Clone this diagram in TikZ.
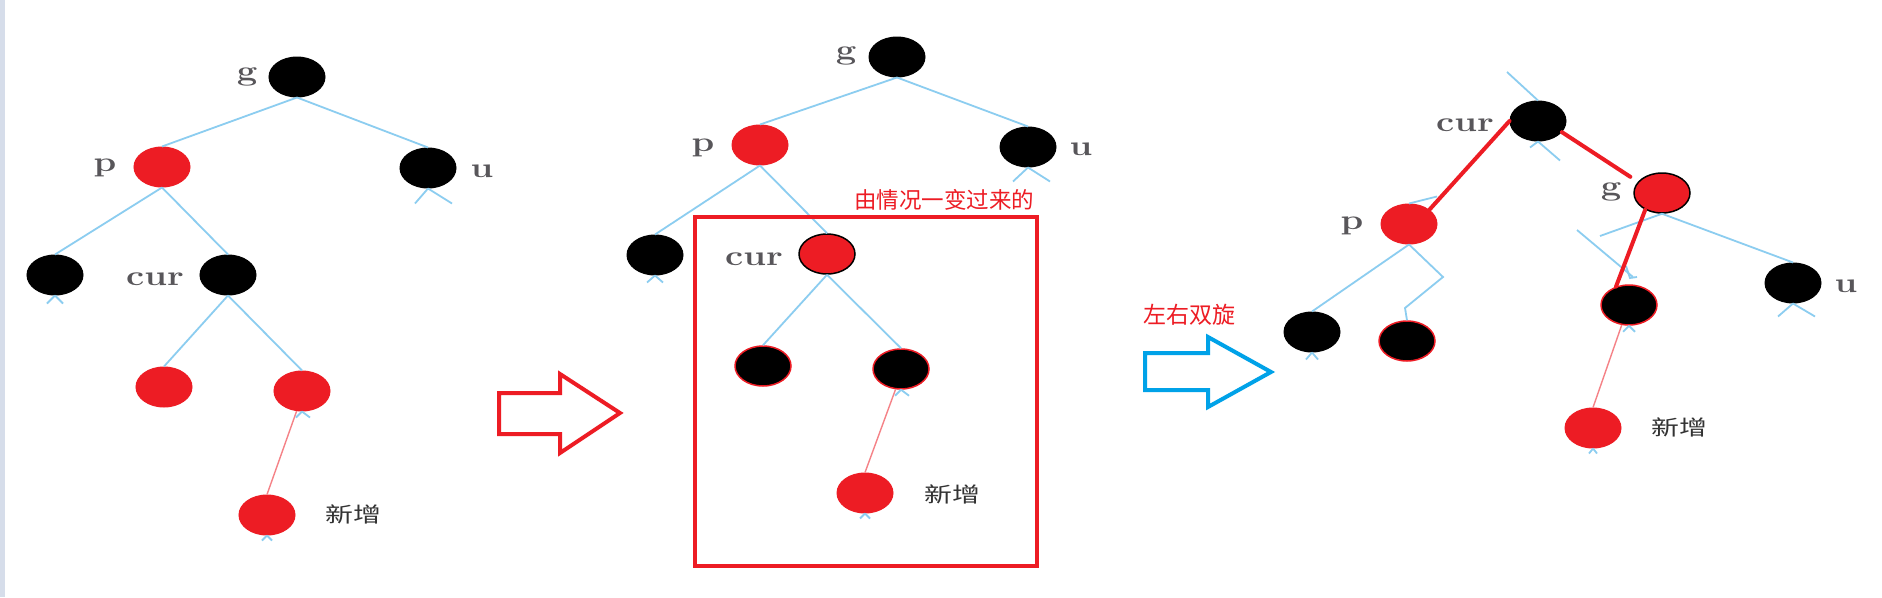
\documentclass[tikz,border=0pt]{standalone}
\usepackage{fontspec}
\usepackage{graphicx}
\newfontfamily\cjk{Noto Sans CJK SC}
\usetikzlibrary{shapes.geometric}
\definecolor{myred}{RGB}{237,28,36}
\definecolor{edgeblue}{RGB}{140,205,240}
\definecolor{arrowblue}{RGB}{0,162,232}
\definecolor{labgray}{RGB}{88,86,90}
\definecolor{stripc}{RGB}{214,221,234}
\newcommand\widetxt[1]{\scalebox{1.3}[1]{#1}}
\begin{document}
\begin{tikzpicture}[x=1pt,y=-1pt,
  rb/.style={ellipse, minimum width=56pt, minimum height=40pt, inner sep=0pt, line width=1pt},
  bk/.style={rb, fill=black, draw=black},
  rd/.style={rb, fill=myred, draw=myred},
  bkr/.style={rb, fill=black, draw=myred, line width=1.5pt},
  rdk/.style={rb, fill=myred, draw=black, line width=1.5pt},
  tedge/.style={draw=edgeblue, line width=1.8pt},
  nedge/.style={draw=myred!55!white, line width=1.4pt},
  redge/.style={draw=myred, line width=4pt, line cap=round},
  lab/.style={text=labgray, font=\fontsize{28}{28}\selectfont\bfseries, inner sep=0pt, anchor=base},
  newlab/.style={text=black!80, font=\cjk\fontsize{21}{21}\selectfont, inner sep=0pt},
  note/.style={text=myred, font=\cjk\fontsize{22.5}{22.5}\selectfont, inner sep=0pt},
  bigarrow/.style={line width=4pt, line join=miter},
]
\useasboundingbox (0,0) rectangle (1882,597);
\fill[white] (0,0) rectangle (1882,597);
\fill[stripc] (0,0) rectangle (5,597);

% ---------- left tree ----------
\node[bk] (Ag) at (297,77) {};
\node[rd] (Ap) at (162,167) {};
\node[bk] (Au) at (428,168) {};
\node[bk] (Al) at (55,275) {};
\node[bk] (Ac) at (228,275) {};
\node[rd] (Acl) at (164,387) {};
\node[rd] (Acr) at (302,391) {};
\node[rd] (An) at (267,515) {};

\draw[tedge] (Ag.south) -- (Ap.north);
\draw[tedge] (Ag.south) -- (Au.north);
\draw[tedge] (Ap.south) -- (Al.north);
\draw[tedge] (Ap.south) -- (Ac.north);
\draw[tedge] (Ac.south) -- (Acl.north);
\draw[tedge] (Ac.south) -- (Acr.north);
\draw[nedge] (Acr.255) -- (An.north);
\draw[tedge] (Au.south) -- ++(-13,15) (Au.south) -- ++(24,15);
\draw[tedge] (Al.south) -- ++(-8,8) (Al.south) -- ++(8,8);
\draw[tedge] (Acr.south) -- ++(-6,6) (Acr.south) -- ++(8,6);
\draw[tedge] (An.south) -- ++(-5,5) (An.south) -- ++(5,5);

\node[lab] (Lg) at (247,80) {\widetxt{g}};
\node[lab] (Lp) at (105,171) {\widetxt{p}};
\node[lab] (Lu) at (482,177) {\widetxt{u}};
\node[lab] (Lc) at (155,285) {\widetxt{cur}};
\node[newlab] (Ln) at (353,514) {\scalebox{1.33}[1]{新增}};

% ---------- red arrow ----------
\draw[myred, bigarrow] (499,393) -- (560,393) -- (560,374) -- (620,413)
  -- (560,453) -- (560,434) -- (499,434) -- cycle;

% ---------- middle tree ----------
\node[bk] (Bg) at (897,57) {};
\node[rd] (Bp) at (760,145) {};
\node[bk] (Bu) at (1028,147) {};
\node[bk] (Bl) at (655,255) {};
\node[rdk] (Bc) at (827,254) {};
\node[bkr] (Bcl) at (763,366) {};
\node[bkr] (Bcr) at (901,369) {};
\node[rd] (Bn) at (865,493) {};

\draw[tedge] (Bg.south) -- (Bp.north);
\draw[tedge] (Bg.south) -- (Bu.north);
\draw[tedge] (Bp.south) -- (Bl.north);
\draw[tedge] (Bp.south) -- (Bc.north);
\draw[tedge] (Bc.south) -- (Bcl.north);
\draw[tedge] (Bc.south) -- (Bcr.north);
\draw[nedge] (Bcr.255) -- (Bn.north);
\draw[tedge] (Bu.south) -- ++(-15,14) (Bu.south) -- ++(22,14);
\draw[tedge] (Bl.south) -- ++(-8,7) (Bl.south) -- ++(8,7);
\draw[tedge] (Bcr.south) -- ++(-6,6) (Bcr.south) -- ++(8,6);
\draw[tedge] (Bn.south) -- ++(-5,5) (Bn.south) -- ++(5,5);

\node[lab] (Mg) at (846,59) {\widetxt{g}};
\node[lab] (Mp) at (703,151) {\widetxt{p}};
\node[lab] (Mu) at (1081,155) {\widetxt{u}};
\node[lab] (Mc) at (754,265) {\widetxt{cur}};
\node[newlab] (Mn) at (952,494) {\scalebox{1.33}[1]{新增}};

\draw[myred, line width=4pt] (695,217) rectangle (1037,566);
\node[note] (t1) at (944,200) {由情况一变过来的};

% ---------- blue arrow ----------
\node[note, font=\cjk\fontsize{23}{23}\selectfont] (t2) at (1189,315) {左右双旋};
\draw[arrowblue, bigarrow] (1145,353) -- (1208,353) -- (1208,337) -- (1271,372)
  -- (1208,407) -- (1208,390) -- (1145,390) -- cycle;

% ---------- right tree ----------
\node[bk] (Cc) at (1538,121) {};
\node[rd] (Cp) at (1409,224) {};
\node[rdk] (Cg) at (1662,193) {};
\node[bk] (Cu) at (1793,283) {};
\node[bkr] (Cgl) at (1629,305) {};
\node[bk] (Cpl) at (1312,332) {};
\node[bkr] (Cpr) at (1407,341) {};
\node[rd] (Cn) at (1593,428) {};

\draw[tedge] (1507,72) -- (Cc.north);
\draw[tedge] (Cc.south) -- ++(22,19) (Cc.south) -- ++(-8,6);
\draw[tedge] (Cp.north) -- ++(28,-7);
\draw[tedge] (Cp.south) -- (Cpl.north);
\draw[tedge] (Cp.south) -- (1443,277) -- (1405,308) -- (Cpr.north);
\draw[tedge] (Cg.south) -- (Cu.north);
\draw[tedge] (Cg.south) -- (1600,236);
\draw[tedge] (1577,230) -- (1633,277);
\draw[tedge] (1626,266) -- (1630,278) -- (1637,277);
\draw[tedge] (Cu.south) -- ++(-15,13) (Cu.south) -- ++(22,13);
\draw[tedge] (Cpl.south) -- ++(-6,7) (Cpl.south) -- ++(6,7);
\draw[tedge] (Cgl.south) -- ++(-6,6) (Cgl.south) -- ++(6,6);
\draw[tedge] (Cn.south) -- ++(-4,5) (Cn.south) -- ++(4,5);

\draw[redge] (Cc.west) -- (Cp.35);
\draw[redge, shorten >=9pt] (Cc.-25) -- (Cg.155);
\draw[redge] (Cg.225) -- (Cgl.125);
\draw[nedge] (Cgl.250) -- (Cn.north);

\node[lab] (Rc) at (1465,131) {\widetxt{cur}};
\node[lab] (Rg) at (1611,195) {\widetxt{g}};
\node[lab] (Rp) at (1352,229) {\widetxt{p}};
\node[lab] (Ru) at (1846,292) {\widetxt{u}};
\node[newlab] (Rn) at (1679,427) {\scalebox{1.33}[1]{新增}};
\end{tikzpicture}
\end{document}
